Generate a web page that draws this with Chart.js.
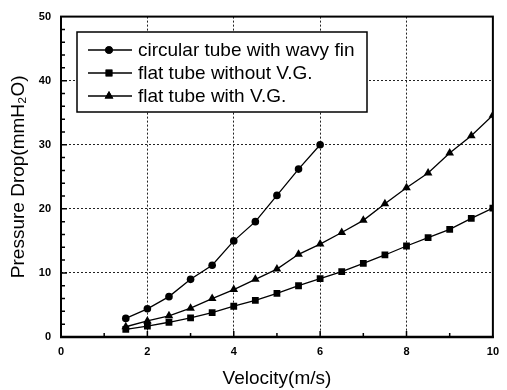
<!DOCTYPE html>
<html>
<head>
<meta charset="utf-8">
<script src="https://cdn.jsdelivr.net/npm/chart.js@4.4.1/dist/chart.umd.min.js"></script>
<style>
  html, body { margin: 0; padding: 0; background: #fff; }
  #wrap { width: 507px; height: 390px; position: relative; }
</style>
</head>
<body>
<div id="wrap"><canvas id="dpChart"></canvas></div>
<script>
'use strict'
// velocity (m/s)
const velCircular = [1.5, 2, 2.5, 3, 3.5, 4, 4.5, 5, 5.5, 6];
const velFlat = [1.5, 2, 2.5, 3, 3.5, 4, 4.5, 5, 5.5, 6, 6.5, 7, 7.5, 8, 8.5, 9, 9.5, 10];

// pressure drop (mmH2O)
const dpCircular = [2.9, 4.4, 6.3, 9.0, 11.2, 15.0, 18.0, 22.1, 26.2, 30.0];
const dpFlatNoVG = [1.2, 1.7, 2.3, 3.0, 3.8, 4.8, 5.7, 6.8, 8.0, 9.1, 10.2, 11.5, 12.8, 14.2, 15.5, 16.8, 18.5, 20.1];
const dpFlatVG = [1.6, 2.5, 3.3, 4.5, 6.0, 7.4, 9.0, 10.6, 12.9, 14.5, 16.3, 18.2, 20.8, 23.3, 25.6, 28.7, 31.4, 34.6];

const seriesNames = ['circular tube with wavy fin', 'flat tube without V.G.', 'flat tube with V.G.'];
const seriesMarkers = ['circle', 'rect', 'triangle'];
const markerSizes = [3.8, 4.8, 5];

const FONT = '"Liberation Sans", Arial, sans-serif';

const toPoints = (xs, ys) => xs.map((v, i) => ({x: v, y: ys[i]}));

const makeSet = (i, pts) => ({
  label: seriesNames[i],
  data: pts,
  showLine: true,
  borderColor: '#000',
  backgroundColor: '#000',
  borderWidth: 1.3,
  pointStyle: seriesMarkers[i],
  pointRadius: markerSizes[i],
  pointBorderWidth: 0,
  pointBackgroundColor: '#000',
});

const data = {
  datasets: [
    makeSet(0, toPoints(velCircular, dpCircular)),
    makeSet(1, toPoints(velFlat, dpFlatNoVG)),
    makeSet(2, toPoints(velFlat, dpFlatVG)),
  ],
};

const gridColor = (lo, hi) => (c) =>
  (c.tick && (c.tick.value === lo || c.tick.value === hi)) ? 'rgba(0,0,0,0)' : '#222';

// frame, inward ticks and the boxed legend
const framePlugin = {
  id: 'frame',
  afterDatasetsDraw(chart) {
    const {ctx, chartArea: a, scales: {x, y}} = chart;
    ctx.save();
    ctx.strokeStyle = '#000';
    ctx.lineWidth = 2;
    ctx.strokeRect(a.left, a.top, a.right - a.left, a.bottom - a.top);
    ctx.lineWidth = 2.5;
    ctx.beginPath();
    ctx.moveTo(a.left - 1, a.bottom);
    ctx.lineTo(a.right + 1, a.bottom);
    ctx.stroke();

    ctx.lineWidth = 1.5;
    ctx.beginPath();
    for (let v = 1; v < 10; v++) {
      const px = x.getPixelForValue(v);
      const len = v % 2 === 0 ? 6 : 4;
      ctx.moveTo(px, a.bottom);
      ctx.lineTo(px, a.bottom - len);
    }
    for (let v = 2; v < 50; v += 2) {
      const py = y.getPixelForValue(v);
      const len = v % 10 === 0 ? 6 : 4;
      ctx.moveTo(a.left, py);
      ctx.lineTo(a.left + len, py);
    }
    ctx.stroke();

    // legend box
    const bx = 77, by = 32, bw = 290, bh = 80;
    ctx.fillStyle = '#fff';
    ctx.fillRect(bx, by, bw, bh);
    ctx.lineWidth = 1.5;
    ctx.strokeRect(bx, by, bw, bh);
    ctx.font = '19px ' + FONT;
    ctx.textBaseline = 'middle';
    ctx.textAlign = 'left';
    chart.data.datasets.forEach((ds, i) => {
      const ry = by + 18 + i * 23;
      ctx.strokeStyle = '#000';
      ctx.lineWidth = 1.3;
      ctx.beginPath();
      ctx.moveTo(88, ry);
      ctx.lineTo(132, ry);
      ctx.stroke();
      ctx.fillStyle = '#000';
      Chart.helpers.drawPoint(ctx, {pointStyle: ds.pointStyle, radius: ds.pointRadius, borderWidth: 0}, 109, ry);
      ctx.fill();
      ctx.fillText(ds.label, 138, ry + 1);
    });
    ctx.restore();
  }
};

const options = {
  animation: false,
  responsive: true,
  maintainAspectRatio: false,
  layout: { padding: { top: 11, right: 6, left: 0, bottom: 0 } },
  plugins: {
    legend: { display: false },
    tooltip: { enabled: false },
  },
  scales: {
    x: {
      type: 'linear',
      min: 0,
      max: 10,
      afterFit: (s) => { s.height = 53; },
      ticks: { stepSize: 2, color: '#000', padding: 8, font: { family: FONT, size: 11, weight: 'bold' } },
      grid: { color: gridColor(0, 10), drawTicks: false, tickLength: 0, lineWidth: 1 },
      border: { display: false, dash: [2, 2] },
      title: { display: true, text: 'Velocity(m/s)', color: '#000', padding: { top: 0, bottom: 0 }, font: { family: FONT, size: 19 } },
    },
    y: {
      type: 'linear',
      min: 0,
      max: 50,
      afterFit: (s) => { s.width = 61; },
      ticks: { stepSize: 10, color: '#000', padding: 10, font: { family: FONT, size: 11, weight: 'bold' } },
      grid: { color: gridColor(0, 50), drawTicks: false, tickLength: 0, lineWidth: 1 },
      border: { display: false, dash: [2, 2] },
      title: { display: true, text: 'Pressure Drop(mmH\u2082O)', color: '#000', padding: { top: 7, bottom: 0 }, font: { family: FONT, size: 19 } },
    },
  },
};

const dpChart = new Chart(document.getElementById('dpChart'), {
  type: 'scatter',
  data: data,
  options: options,
  plugins: [framePlugin],
});
</script>
</body>
</html>
